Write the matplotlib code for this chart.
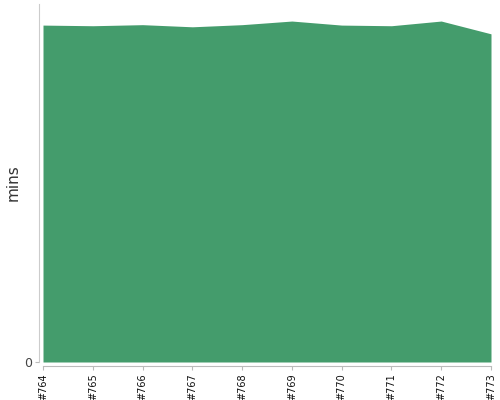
import matplotlib
matplotlib.use("Agg")
import matplotlib.pyplot as plt

builds = ["#764", "#765", "#766", "#767", "#768", "#769", "#770", "#771", "#772", "#773"]
mins = [15.81, 15.78, 15.83, 15.73, 15.83, 16.0, 15.81, 15.78, 16.0, 15.40]

fig = plt.figure(figsize=(5, 4), dpi=100)
ax = fig.add_axes([0.086, 0.095, 0.896, 0.895])

x = list(range(len(builds)))
ax.fill_between(x, mins, 0, color="#449c6c", linewidth=0)

ax.set_xlim(0, len(builds) - 1)
ax.set_ylim(0, 16.8)
ax.set_xticks(x, builds)
ax.set_yticks([0], ["0"])
ax.set_ylabel("mins", fontsize=11, color="#333333", labelpad=2)

for s in ["top", "right"]:
    ax.spines[s].set_visible(False)
ax.spines["left"].set_position(("outward", 3))
ax.spines["bottom"].set_position(("outward", 3))
ax.spines["left"].set_color("#cccccc")
ax.spines["bottom"].set_color("#bbbbbb")
ax.tick_params(axis="both", length=3, color="#bbbbbb", pad=2)
ax.tick_params(axis="x", labelrotation=90, labelsize=7, labelcolor="#111111")
ax.tick_params(axis="y", labelsize=9, labelcolor="#444444")

fig.savefig("out.png")
